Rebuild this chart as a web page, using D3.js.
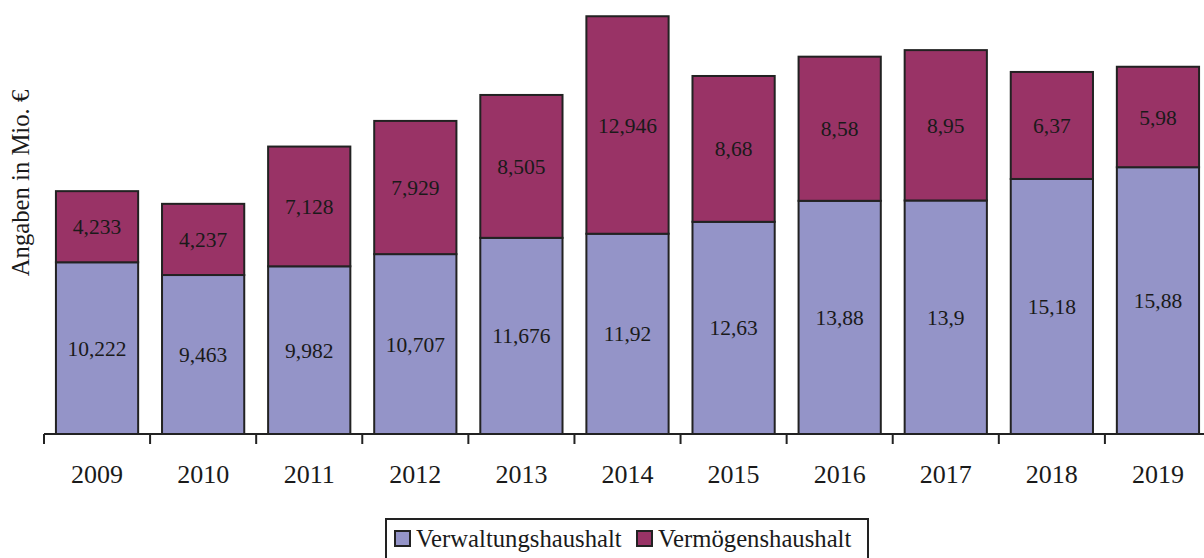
<!DOCTYPE html>
<html><head><meta charset="utf-8">
<script src="https://cdn.jsdelivr.net/npm/d3@7"></script>
<style>body{margin:0;background:#fff}svg{display:block}text{font-family:"Liberation Serif","Times New Roman",serif;fill:#1a1a1a}</style>
</head><body><svg id="c" width="1204" height="558"></svg>
<script>
const years = ["2009","2010","2011","2012","2013","2014","2015","2016","2017","2018","2019"];
const verwaltung = [10.222, 9.463, 9.982, 10.707, 11.676, 11.92, 12.63, 13.88, 13.9, 15.18, 15.88];
const vermoegen = [4.233, 4.237, 7.128, 7.929, 8.505, 12.946, 8.68, 8.58, 8.95, 6.37, 5.98];
const verwaltungLabels = ["10,222","9,463","9,982","10,707","11,676","11,92","12,63","13,88","13,9","15,18","15,88"];
const vermoegenLabels = ["4,233","4,237","7,128","7,929","8,505","12,946","8,68","8,58","8,95","6,37","5,98"];
const seriesNames = ["Verwaltungshaushalt","Vermögenshaushalt"];
const colors = ["#9494c8","#993366"];

const svg = d3.select("#c");
const x = d3.scaleBand().domain(years).range([44, 1211]).paddingInner(0.225).paddingOuter(0.1125);
const y = d3.scaleLinear().domain([0, 25]).range([434, 14]);

const rows = years.map((yr,i)=>({year:yr, v:verwaltung[i], m:vermoegen[i], vl:verwaltungLabels[i], ml:vermoegenLabels[i]}));
const stack = d3.stack().keys(["v","m"])(rows);
const labelKeys = {v:"vl", m:"ml"};

stack.forEach((layer, li) => {
  const g = svg.append("g");
  g.selectAll("rect").data(layer).join("rect")
    .attr("x", d => x(d.data.year))
    .attr("width", x.bandwidth())
    .attr("y", d => y(d[1]))
    .attr("height", d => y(d[0]) - y(d[1]))
    .attr("fill", colors[li])
    .attr("stroke", "#222").attr("stroke-width", 2);
  g.selectAll("text").data(layer).join("text")
    .attr("x", d => x(d.data.year) + x.bandwidth()/2)
    .attr("y", d => (y(d[0]) + y(d[1]))/2)
    .attr("dy", "0.35em")
    .attr("text-anchor","middle")
    .attr("font-size", 21.5)
    .text(d => d.data[labelKeys[layer.key]]);
});

// x axis
const axisG = svg.append("g").attr("transform","translate(0,434)");
axisG.append("line").attr("x1",44).attr("x2",1211).attr("y1",0).attr("y2",0).attr("stroke","#222").attr("stroke-width",2);
const tickPos = years.map(yr => x(yr) - x.step()*x.paddingInner()/2);
tickPos.push(1211);
axisG.selectAll("line.t").data(tickPos).join("line").attr("class","t")
  .attr("x1",d=>d).attr("x2",d=>d).attr("y1",0).attr("y2",10).attr("stroke","#222").attr("stroke-width",2);
axisG.selectAll("text").data(years).join("text")
  .attr("x", d => x(d) + x.bandwidth()/2)
  .attr("y", 49)
  .attr("text-anchor","middle").attr("font-size",26)
  .text(d=>d);

// y label
svg.append("text").attr("transform","translate(29,183) rotate(-90)")
  .attr("text-anchor","middle").attr("font-size",24.7).text("Angaben in Mio. €");

// legend
const lg = svg.append("g");
lg.append("rect").attr("x",386).attr("y",519).attr("width",482).attr("height",50)
  .attr("fill","#fff").attr("stroke","#222").attr("stroke-width",2);
const items = [{x:395, n:seriesNames[0], c:colors[0]},{x:637, n:seriesNames[1], c:colors[1]}];
items.forEach(it => {
  lg.append("rect").attr("x",it.x).attr("y",531).attr("width",15).attr("height",15)
    .attr("fill",it.c).attr("stroke","#222").attr("stroke-width",2);
  lg.append("text").attr("x",it.x+21).attr("y",547).attr("font-size",24.7).text(it.n);
});
</script></body></html>
